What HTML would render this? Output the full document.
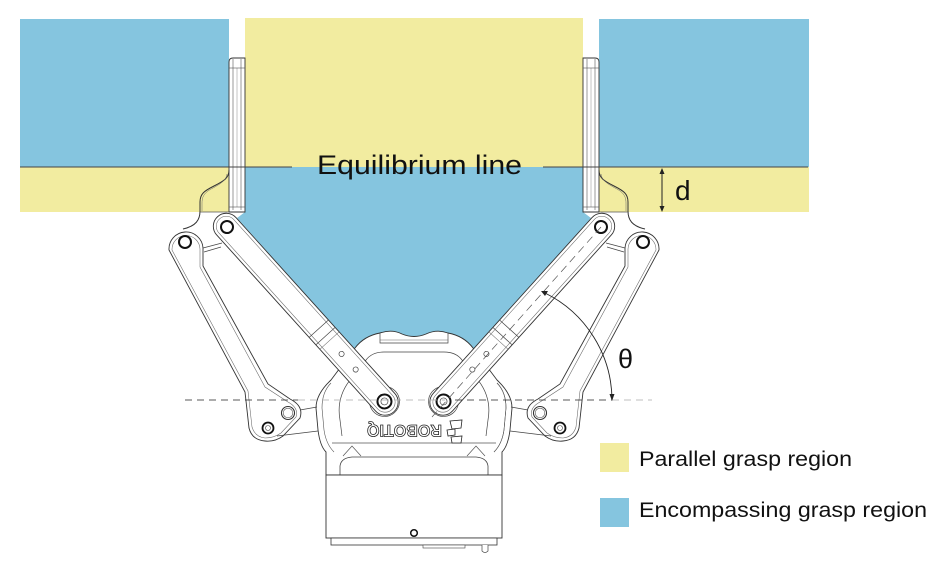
<!DOCTYPE html>
<html><head><meta charset="utf-8"><style>
html,body{margin:0;padding:0;background:#fff;}
svg{display:block;}
text{font-family:"Liberation Sans",sans-serif;}
</style></head><body>
<svg width="948" height="564" viewBox="0 0 948 564" xmlns="http://www.w3.org/2000/svg">
<defs>
<g id="L">
  <!-- finger -->
  <path d="M229,212 L229,62 Q229,58 233,58 L245,58 L245,212 Z" fill="#fff" stroke="#333" stroke-width="0.9"/>
  <line x1="233" y1="59" x2="233" y2="210" stroke="#555" stroke-width="0.6"/>
  <line x1="241" y1="59" x2="241" y2="210" stroke="#555" stroke-width="0.6"/>
  <line x1="237" y1="68" x2="237" y2="207" stroke="#888" stroke-width="0.5"/>
  <line x1="229" y1="68" x2="245" y2="68" stroke="#555" stroke-width="0.6"/>
  <line x1="229" y1="207" x2="245" y2="207" stroke="#555" stroke-width="0.6"/>
  <!-- S bracket -->
  <path d="M229,170 C229,178 224,181 214,186 C204,191 200,194 200,202 L200,211 C200,220 196,226 183,229" fill="none" stroke="#333" stroke-width="1"/>
  <path d="M227,174 C226,180 222,183 213,188 C205,192 202,196 202,203 L202,211" fill="none" stroke="#666" stroke-width="0.5"/>
  <line x1="200" y1="212" x2="229" y2="212" stroke="#555" stroke-width="0.7"/>
  <!-- outer arm -->
  <path d="M169,250 A17,17 0 0 1 203,248 L203,266 L268,384 L290,399 Q304,406 300,418 L283,436 Q275,442 265,441 Q252,440 249,428 L245,392 Z" fill="#fff" stroke="#333" stroke-width="0.9"/>
  <path d="M172,250 A14,14 0 0 1 200,249 L200,267 L265,387 L288,402 Q299,408 296,417 L281,433 Q274,438 265,438 Q255,437 252,427 L248,391 Z" fill="none" stroke="#666" stroke-width="0.55"/>
  <circle cx="185" cy="242" r="6" fill="#fff" stroke="#111" stroke-width="2"/>
  <line x1="203" y1="248" x2="222" y2="243" stroke="#444" stroke-width="0.7"/>
  <line x1="204" y1="252" x2="221" y2="247" stroke="#444" stroke-width="0.7"/>
  <!-- bracket pivots and links -->
  <circle cx="268" cy="428" r="5.5" fill="#fff" stroke="#111" stroke-width="1.8"/>
  <circle cx="268" cy="428" r="2.5" fill="none" stroke="#444" stroke-width="0.6"/>
  <circle cx="288" cy="413" r="6.5" fill="#fff" stroke="#333" stroke-width="1.1"/>
  <circle cx="288" cy="413" r="4.8" fill="none" stroke="#555" stroke-width="0.6"/>
  <line x1="300" y1="410" x2="317" y2="407" stroke="#444" stroke-width="0.8"/>
  <line x1="277" y1="436" x2="318" y2="431" stroke="#444" stroke-width="0.8"/>
  <!-- body ear inner contour -->
  <path d="M331,383 Q322,392 322,408 L324,430 Q326,444 334,452" fill="none" stroke="#555" stroke-width="0.6"/>
  <!-- inner arm -->
  <g transform="translate(227,227) rotate(47.93)">
    <circle cx="235" cy="0" r="15" fill="#fff" stroke="#444" stroke-width="0.7"/>
    <rect x="-14" y="-13" width="263" height="26" rx="13" fill="#fff" stroke="#333" stroke-width="0.9"/>
    <rect x="-11" y="-10" width="257" height="20" rx="10" fill="none" stroke="#666" stroke-width="0.55"/>
    <line x1="137" y1="-13" x2="137" y2="13" stroke="#444" stroke-width="0.7"/>
    <line x1="147" y1="-13" x2="147" y2="13" stroke="#444" stroke-width="0.7"/>
    <line x1="153" y1="-13" x2="153" y2="13" stroke="#666" stroke-width="0.5"/>
    <circle cx="171" cy="0" r="2.6" fill="#fff" stroke="#444" stroke-width="0.7"/>
    <circle cx="192" cy="0" r="2.6" fill="#fff" stroke="#444" stroke-width="0.7"/>
    <circle cx="0" cy="0" r="6" fill="#fff" stroke="#111" stroke-width="2"/>
    <circle cx="235" cy="0" r="7" fill="#fff" stroke="#111" stroke-width="2"/>
    <circle cx="235" cy="0" r="3.5" fill="none" stroke="#444" stroke-width="0.7"/>
  </g>
</g>
</defs>

<!-- regions -->
<rect x="20" y="19" width="209" height="148" fill="#85c5df"/>
<rect x="20" y="167" width="209" height="45" fill="#f2eca0"/>
<rect x="245" y="18" width="338" height="149" fill="#f2eca0"/>
<rect x="599" y="19" width="210" height="148" fill="#85c5df"/>
<rect x="599" y="167" width="210" height="45" fill="#f2eca0"/>
<polygon points="245,167 583,167 583,212 591,218 473,350 355,350 237,218 245,212" fill="#85c5df"/>

<!-- body -->
<path d="M355,348 Q364,336 380,333 Q392,329 402,334 Q414,339 426,334 Q437,329 448,333 Q464,336 473,348 L497,380 Q512,394 512,408 L510,430 Q508,446 502,452 L502,475 L326,475 L326,452 Q320,446 318,430 L316,408 Q316,394 331,380 Z" fill="#fff" stroke="#333" stroke-width="0.9"/>
<path d="M380,333 L380,343 L448,343 L448,333" fill="none" stroke="#444" stroke-width="0.7"/>
<line x1="380" y1="340" x2="448" y2="340" stroke="#666" stroke-width="0.5"/>
<path d="M340,420 Q336,398 350,380 L366,360 Q372,352 384,352 L444,352 Q456,352 462,360 L478,380 Q492,398 488,420 L486,436" fill="none" stroke="#444" stroke-width="0.7"/>
<path d="M340,420 L342,436" fill="none" stroke="#444" stroke-width="0.7"/>
<line x1="332" y1="443" x2="496" y2="443" stroke="#555" stroke-width="0.7"/>
<path d="M340,475 L340,466 Q341,458 352,457 L476,457 Q487,458 488,466 L488,475" fill="none" stroke="#444" stroke-width="0.8"/>
<path d="M343,456 L352,446 L361,456" fill="none" stroke="#555" stroke-width="0.7"/>
<path d="M467,456 L476,446 L485,456" fill="none" stroke="#555" stroke-width="0.7"/>
<path d="M497,383 Q506,392 506,408 L504,430 Q502,444 494,452" fill="none" stroke="#555" stroke-width="0.6"/>
<!-- logo -->
<g transform="translate(404.5,431.5) rotate(180)">
  <text x="0" y="6.5" text-anchor="middle" font-size="17" font-weight="bold" textLength="75" lengthAdjust="spacingAndGlyphs" fill="#fff" stroke="#222" stroke-width="0.8">ROBOTIQ</text>
</g>
<polygon points="450,421 462,420 461,428 452,429" fill="#fff" stroke="#222" stroke-width="0.8"/>
<polygon points="447,430 455,429 455,435 448,436" fill="#fff" stroke="#222" stroke-width="0.8"/>
<polygon points="451,437 462,436 461,443 452,443" fill="#fff" stroke="#222" stroke-width="0.8"/>

<!-- lower box -->
<rect x="326" y="475" width="176" height="63" fill="#fff" stroke="#333" stroke-width="0.9"/>
<rect x="331" y="538" width="166" height="7" fill="#fff" stroke="#333" stroke-width="0.8"/>
<rect x="423" y="545" width="42" height="3" fill="#fff" stroke="#444" stroke-width="0.6"/>
<path d="M482,545 L482,551 Q485,554 488,551 L488,545" fill="#fff" stroke="#444" stroke-width="0.7"/>
<circle cx="414" cy="533" r="3.3" fill="#fff" stroke="#111" stroke-width="1.5"/>

<!-- arms -->
<use href="#L"/>
<use href="#L" transform="translate(828,0) scale(-1,1)"/>

<!-- right arm centerline dashed -->
<line x1="601" y1="227" x2="432" y2="417" stroke="#555" stroke-width="0.7" stroke-dasharray="8,5"/>

<!-- horizontal dashed -->
<line x1="185" y1="400" x2="298" y2="400" stroke="#222" stroke-width="0.8" stroke-dasharray="7,5"/>
<line x1="298" y1="400" x2="445" y2="400" stroke="#aaa" stroke-width="0.8" stroke-dasharray="7,5"/>
<line x1="455" y1="400" x2="612" y2="400" stroke="#222" stroke-width="0.8" stroke-dasharray="7,5"/>
<line x1="612" y1="400" x2="652" y2="400" stroke="#aaa" stroke-width="0.8" stroke-dasharray="7,5"/>

<!-- angle arc -->
<path d="M545,293 A120,120 0 0 1 612,400" fill="none" stroke="#222" stroke-width="0.9"/>
<polygon points="541,291 548,291 545,296" fill="#222"/>
<polygon points="609.5,394 614.5,394 612,401" fill="#222"/>
<text x="618" y="368" font-size="27" fill="#111">θ</text>

<!-- equilibrium line -->
<line x1="20" y1="167" x2="292" y2="167" stroke="#444" stroke-width="1"/>
<line x1="543" y1="167" x2="808" y2="167" stroke="#444" stroke-width="1"/>
<text x="317" y="174" font-size="27" fill="#111" textLength="205" lengthAdjust="spacingAndGlyphs">Equilibrium line</text>

<!-- d dimension -->
<line x1="662" y1="169" x2="662" y2="211" stroke="#222" stroke-width="1"/>
<polygon points="659.5,174 664.5,174 662,168" fill="#222"/>
<polygon points="659.5,206 664.5,206 662,212" fill="#222"/>
<text x="675" y="200" font-size="28" fill="#111">d</text>

<!-- legend -->
<rect x="600" y="443" width="29" height="29" fill="#f2eca0"/>
<rect x="600" y="498" width="29" height="29" fill="#85c5df"/>
<text x="639" y="466" font-size="21" fill="#111" textLength="213" lengthAdjust="spacingAndGlyphs">Parallel grasp region</text>
<text x="639" y="517" font-size="21" fill="#111" textLength="288" lengthAdjust="spacingAndGlyphs">Encompassing grasp region</text>
</svg>
</body></html>
